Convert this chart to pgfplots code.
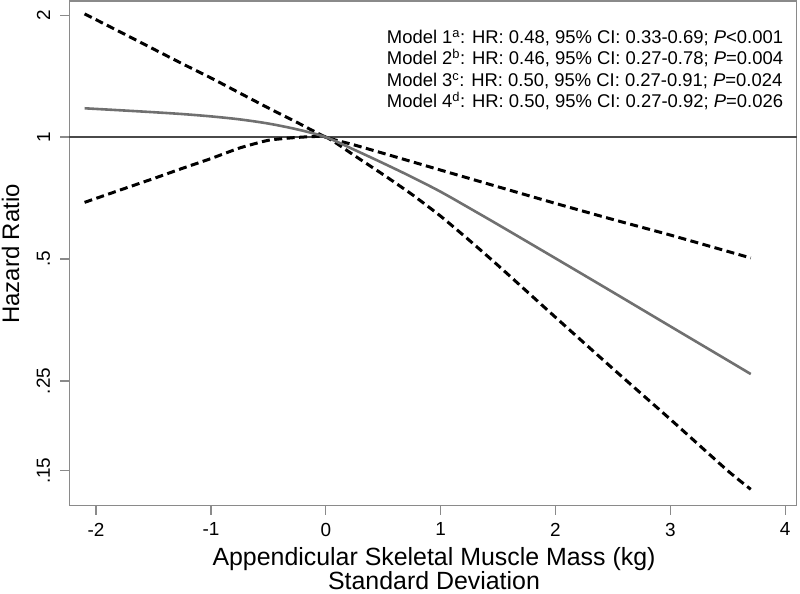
\documentclass[border=0pt]{standalone}
\usepackage{fontspec}
\setmainfont{Liberation Sans}
\usepackage{pgfplots}
\pgfplotsset{compat=1.18}
\definecolor{framegray}{HTML}{8A8A8A}
\definecolor{refgray}{HTML}{4A4A4A}
\definecolor{curvegray}{HTML}{707070}
\begin{document}
\begin{tikzpicture}[x=1bp,y=1bp]
\useasboundingbox (0,0) rectangle (800,594);
\begin{axis}[
  at={(69.3bp,88.3bp)}, anchor=south west,
  scale only axis, width=727.4bp, height=504.7bp,
  xmin=-2.233, xmax=4.10,
  ymode=log, ymin=0.123, ymax=2.168,
  xtick={-2,-1,0,1,2,3,4}, xticklabels={-2,-1,0,1,2,3,4},
  ytick={0.15,0.25,0.5,1,2}, yticklabels={.15,.25,.5,1,2},
  tick pos=left, tick align=outside, major tick length=9bp,
  minor tick num=0,
  every tick/.style={draw=framegray, line width=1.3bp},
  axis line style={draw=framegray, line width=1.5bp},
  ticklabel style={font=\fontsize{19}{20}\selectfont, inner sep=0pt},
  xticklabel style={anchor=north, yshift=-8bp},
  yticklabel style={rotate=90, anchor=south, yshift=10bp},
  clip=false,
]
\addplot[refgray, line width=2.6bp] coordinates {(-2.233,1) (4.10,1)};
\addplot[black, line width=3bp, dash pattern=on 8bp off 4.5bp, smooth, tension=0.3] coordinates {
(-2.1,2.015) (-1.75,1.794) (-1.5,1.65) (-1.25,1.518) (-1.0,1.40) (-0.75,1.285)
(-0.5,1.18) (-0.25,1.087) (0,1.0) (0.25,0.956) (0.5,0.912) (1.0,0.829)
(1.5,0.754) (2.0,0.686) (2.5,0.626) (3.0,0.573) (3.7,0.503)};
\addplot[black, line width=3bp, dash pattern=on 8bp off 4.5bp, smooth, tension=0.3] coordinates {
(-2.1,0.69) (-1.75,0.747) (-1.5,0.79) (-1.25,0.837) (-1.0,0.885) (-0.75,0.94)
(-0.5,0.982) (-0.25,0.998) (0,1.0) (0.25,0.90) (0.5,0.808) (0.75,0.722)
(1.0,0.638) (1.25,0.556) (1.5,0.482) (2.0,0.359) (2.5,0.268) (3.0,0.201) (3.5,0.150) (3.7,0.135)};
\addplot[curvegray, line width=2.6bp, smooth, tension=0.5] coordinates {
(-2.1,1.178) (-1.75,1.163) (-1.5,1.152) (-1.25,1.140) (-1.0,1.125) (-0.75,1.106)
(-0.5,1.08) (-0.25,1.045) (0,1.0) (0.25,0.930) (0.5,0.862) (0.75,0.797)
(1.0,0.733) (1.25,0.668) (1.5,0.608) (2.0,0.502) (2.5,0.414) (3.0,0.341) (3.5,0.281) (3.7,0.260)};
\end{axis}
\node[rotate=90, anchor=base, inner sep=0pt, font=\fontsize{24}{25}\selectfont] at (19,340) {Hazard Ratio};
\node[anchor=base, inner sep=0pt, font=\fontsize{25}{26}\selectfont] at (434,28) {Appendicular Skeletal Muscle Mass (kg)};
\node[anchor=base, inner sep=0pt, font=\fontsize{25}{26}\selectfont] at (434,4.5) {Standard Deviation};
\begin{scope}[every node/.style={anchor=base west, inner sep=0pt, font=\fontsize{18.5}{20}\selectfont}]
\node at (386.7,550.7) {Model 1\textsuperscript{a}: HR: 0.48, 95\% CI: 0.33-0.69; \textit{P}<0.001};
\node at (386.7,529.0) {Model 2\textsuperscript{b}: HR: 0.46, 95\% CI: 0.27-0.78; \textit{P}=0.004};
\node at (386.7,507.3) {Model 3\textsuperscript{c}: HR: 0.50, 95\% CI: 0.27-0.91; \textit{P}=0.024};
\node at (386.7,486.7) {Model 4\textsuperscript{d}: HR: 0.50, 95\% CI: 0.27-0.92; \textit{P}=0.026};
\end{scope}
\end{tikzpicture}
\end{document}
